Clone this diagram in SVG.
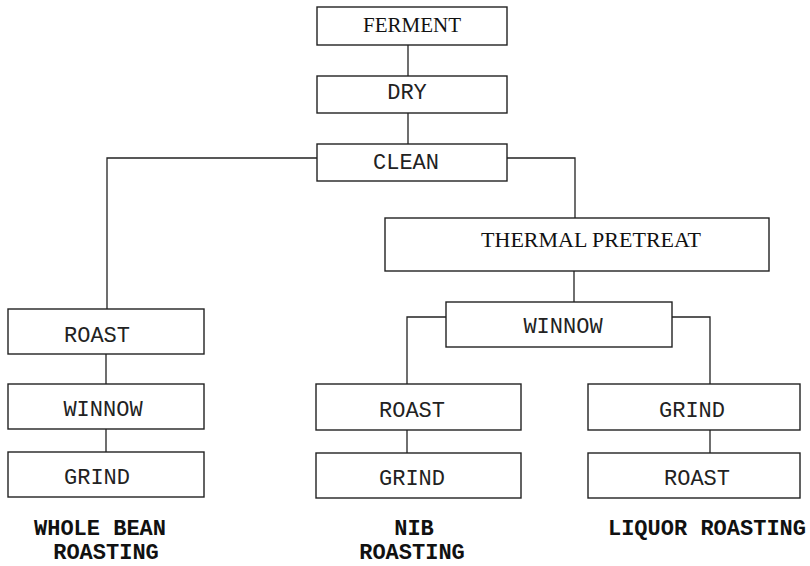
<svg xmlns="http://www.w3.org/2000/svg" width="810" height="566" viewBox="0 0 810 566">
<style>
.n rect{fill:#fff;stroke:#222;stroke-width:1.4}
.c path{fill:none;stroke:#222;stroke-width:1.3}
.t{font-family:"Liberation Serif",serif;font-size:21px;fill:#111;text-anchor:middle}
.m{font-family:"Liberation Mono",monospace;font-size:22px;fill:#222;text-anchor:middle}
.b{font-family:"Liberation Mono",monospace;font-size:22px;font-weight:bold;fill:#111;text-anchor:middle}
</style>
<rect width="810" height="566" fill="#fff"/>
<g class="c" id="connectors">
<path d="M408 45V76M408 113V144"/>
<path d="M317 158H107V309"/>
<path d="M507 158H575V218"/>
<path d="M574 271V302"/>
<path d="M446 317H407V384"/>
<path d="M672 317H710V384"/>
<path d="M106 354V384M106 429V452"/>
<path d="M407 430V453"/>
<path d="M710 430V453"/>
</g>
<g class="n" id="ferment"><rect x="317" y="7" width="190" height="38"/><text class="t" x="412" y="32">FERMENT</text></g>
<g class="n" id="dry"><rect x="317" y="76" width="190" height="37"/><text class="m" x="407" y="99">DRY</text></g>
<g class="n" id="clean"><rect x="317" y="144" width="190" height="37"/><text class="m" x="406" y="169">CLEAN</text></g>
<g class="n" id="thermal"><rect x="385" y="218" width="384" height="53"/><text class="t" x="591" y="247" style="font-size:22px">THERMAL PRETREAT</text></g>
<g class="n" id="winnow-mid"><rect x="446" y="302" width="226" height="45"/><text class="m" x="563" y="333">WINNOW</text></g>
<g class="n" id="roast-wb"><rect x="8" y="309" width="196" height="45"/><text class="m" x="97" y="342">ROAST</text></g>
<g class="n" id="winnow-wb"><rect x="8" y="384" width="196" height="45"/><text class="m" x="103" y="416">WINNOW</text></g>
<g class="n" id="grind-wb"><rect x="8" y="452" width="196" height="45"/><text class="m" x="97" y="484">GRIND</text></g>
<g class="n" id="roast-nib"><rect x="316" y="384" width="205" height="46"/><text class="m" x="412" y="417">ROAST</text></g>
<g class="n" id="grind-nib"><rect x="316" y="453" width="205" height="45"/><text class="m" x="412" y="485">GRIND</text></g>
<g class="n" id="grind-liq"><rect x="588" y="384" width="212" height="46"/><text class="m" x="692" y="417">GRIND</text></g>
<g class="n" id="roast-liq"><rect x="588" y="453" width="212" height="45"/><text class="m" x="697" y="485">ROAST</text></g>
<g id="labels">
<text class="b" x="100" y="535">WHOLE BEAN</text>
<text class="b" x="106" y="559">ROASTING</text>
<text class="b" x="414" y="535">NIB</text>
<text class="b" x="412" y="559">ROASTING</text>
<text class="b" x="707" y="535">LIQUOR ROASTING</text>
</g>
</svg>
